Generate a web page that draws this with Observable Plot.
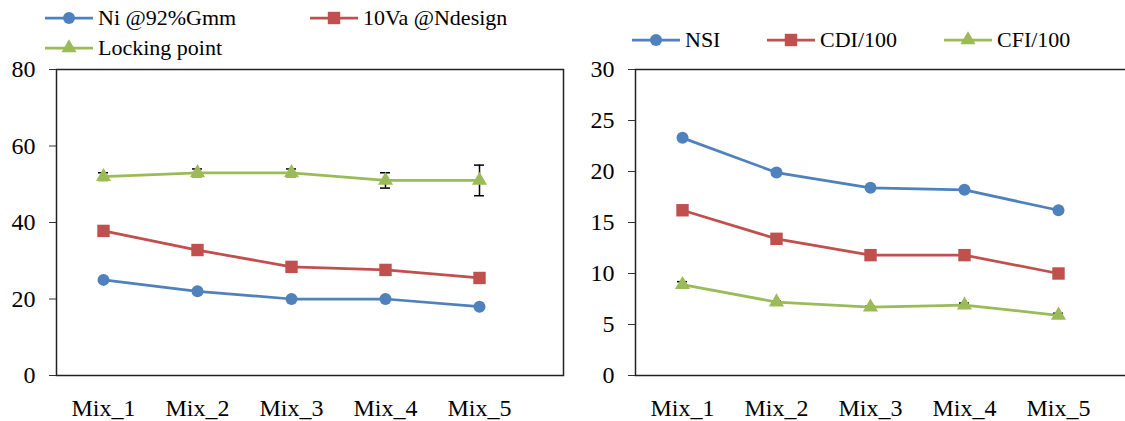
<!DOCTYPE html>
<html>
<head>
<meta charset="utf-8">
<script src="https://cdn.jsdelivr.net/npm/d3@7"></script>
<script src="https://cdn.jsdelivr.net/npm/@observablehq/plot@0.6"></script>
<style>
  html, body { margin: 0; padding: 0; background: #fff; overflow: hidden; }
  #wrap { position: relative; width: 1125px; height: 421px; overflow: hidden; font-family: "Liberation Serif", "Times New Roman", Times, Tinos, "Nimbus Roman", "FreeSerif", "DejaVu Serif", serif; }
  .legend { position: absolute; font-size: 22px; color: #000; white-space: nowrap; font-family: inherit; }
  .item { position: absolute; display: flex; align-items: center; }
  .item svg { margin-right: 5px; }
  svg.chart text { font-family: "Liberation Serif", "Times New Roman", Times, Tinos, "Nimbus Roman", "FreeSerif", "DejaVu Serif", serif; }
</style>
</head>
<body>
<div id="wrap"></div>
<script>
// ---------- data ----------
const categories = ["Mix_1", "Mix_2", "Mix_3", "Mix_4", "Mix_5"];

// left chart
const leftSeries = ["Ni @92%Gmm", "10Va @Ndesign", "Locking point"];
const niValues = [25, 22, 20, 20, 18];
const vaValues = [37.8, 32.8, 28.4, 27.6, 25.5];
const lockValues = [52, 53, 53, 51, 51];
const lockErr = [1, 1, 1, 2, 4];
const leftTicks = [0, 20, 40, 60, 80];

// right chart
const rightSeries = ["NSI", "CDI/100", "CFI/100"];
const nsiValues = [23.3, 19.9, 18.4, 18.2, 16.2];
const nsiErr = [0, 0.2, 0, 0, 0];
const cdiValues = [16.2, 13.4, 11.8, 11.8, 10.0];
const cdiErr = [0, 0, 0, 0.2, 0];
const cfiValues = [8.9, 7.2, 6.7, 6.9, 5.9];
const cfiErr = [0.3, 0.1, 0.1, 0.2, 0.2];
const rightTicks = [0, 5, 10, 15, 20, 25, 30];

const colors = ["#4f81bd", "#c0504d", "#9bbb59"];
const symbols = ["circle", "square", "triangle"];
const radii = [6, 7, 5.6];

function rows(names, valueArrays, errArrays) {
  const out = [];
  names.forEach((name, s) => {
    categories.forEach((c, i) => {
      out.push({series: name, idx: s, mix: c, value: valueArrays[s][i], err: errArrays[s][i]});
    });
  });
  return out;
}

const leftData = rows(leftSeries, [niValues, vaValues, lockValues], [[0,0,0,0,0],[0,0,0,0,0], lockErr]);
const rightData = rows(rightSeries, [nsiValues, cdiValues, cfiValues], [nsiErr, cdiErr, cfiErr]);

function chart(data, names, yDomain, yTicks, opts) {
  const errData = data.filter(d => d.err > 0);
  const marks = [
    Plot.frame({stroke: "#222", strokeWidth: 1.5}),
    Plot.axisY({ticks: yTicks, tickSize: 7, tickPadding: 14, tickFormat: d => String(d), stroke: "#333", label: null}),
    Plot.axisX({tickSize: 0, tickPadding: 23, label: null}),
    Plot.ruleX(errData, {x: "mix", y1: d => d.value - d.err, y2: d => d.value + d.err, stroke: "#000", strokeWidth: 1.5}),
    Plot.ruleY(errData, {x1: "mix", x2: "mix", y: d => d.value + d.err, stroke: "#000", strokeWidth: 1.5, insetLeft: -5, insetRight: -5}),
    Plot.ruleY(errData, {x1: "mix", x2: "mix", y: d => d.value - d.err, stroke: "#000", strokeWidth: 1.5, insetLeft: -5, insetRight: -5})
  ];
  names.forEach((name, s) => {
    const sub = data.filter(d => d.idx === s);
    marks.push(Plot.line(sub, {x: "mix", y: "value", stroke: colors[s], strokeWidth: 2.75}));
  });
  names.forEach((name, s) => {
    const sub = data.filter(d => d.idx === s);
    marks.push(Plot.dot(sub, {x: "mix", y: "value", symbol: () => symbols[s], fill: colors[s], stroke: "none", r: radii[s]}));
  });
  const svg = Plot.plot({
    width: opts.width,
    height: 421,
    marginLeft: opts.marginLeft,
    marginRight: opts.marginRight,
    marginTop: 69,
    marginBottom: 46,
    x: {type: "point", domain: categories, range: opts.xRange, padding: 0, label: null},
    y: {domain: yDomain, label: null},
    symbol: {type: "identity"},
    style: {
      position: "absolute", left: opts.left + "px", top: "0px",
      fontSize: "24px", color: "#000", background: "transparent", overflow: "visible"
    },
    marks
  });
  svg.classList.add("chart");
  return svg;
}

const wrap = document.getElementById("wrap");

const left = chart(leftData, leftSeries, [0, 80], leftTicks, {
  left: 0, width: 570, marginLeft: 56, marginRight: 7, xRange: [103, 479]
});
const right = chart(rightData, rightSeries, [0, 30], rightTicks, {
  left: 580, width: 570, marginLeft: 55, marginRight: 0, xRange: [102, 478]
});
wrap.appendChild(left);
wrap.appendChild(right);

// ---------- legends ----------
function swatch(s) {
  const ns = "http://www.w3.org/2000/svg";
  const svg = document.createElementNS(ns, "svg");
  svg.setAttribute("width", 48);
  svg.setAttribute("height", 20);
  const line = document.createElementNS(ns, "line");
  line.setAttribute("x1", 0); line.setAttribute("x2", 48);
  line.setAttribute("y1", 10); line.setAttribute("y2", 10);
  line.setAttribute("stroke", colors[s]); line.setAttribute("stroke-width", 2.75);
  svg.appendChild(line);
  const sym = d3.symbol().type([d3.symbolCircle, d3.symbolSquare, d3.symbolTriangle][s]).size(Math.PI * radii[s] * radii[s]);
  const p = document.createElementNS(ns, "path");
  p.setAttribute("d", sym());
  p.setAttribute("transform", "translate(24,10)");
  p.setAttribute("fill", colors[s]);
  svg.appendChild(p);
  return svg;
}

function legend(names, positions) {
  const div = document.createElement("div");
  div.className = "legend";
  names.forEach((name, s) => {
    const it = document.createElement("div");
    it.className = "item";
    it.style.left = positions[s][0] + "px";
    it.style.top = (positions[s][1] - 13) + "px";
    it.appendChild(swatch(s));
    const t = document.createElement("span");
    t.textContent = name;
    it.appendChild(t);
    div.appendChild(it);
  });
  wrap.appendChild(div);
}

legend(leftSeries, [[45, 18], [310, 18], [45, 48]]);
legend(rightSeries, [[632, 40], [767, 40], [944, 40]]);
</script>
</body>
</html>
